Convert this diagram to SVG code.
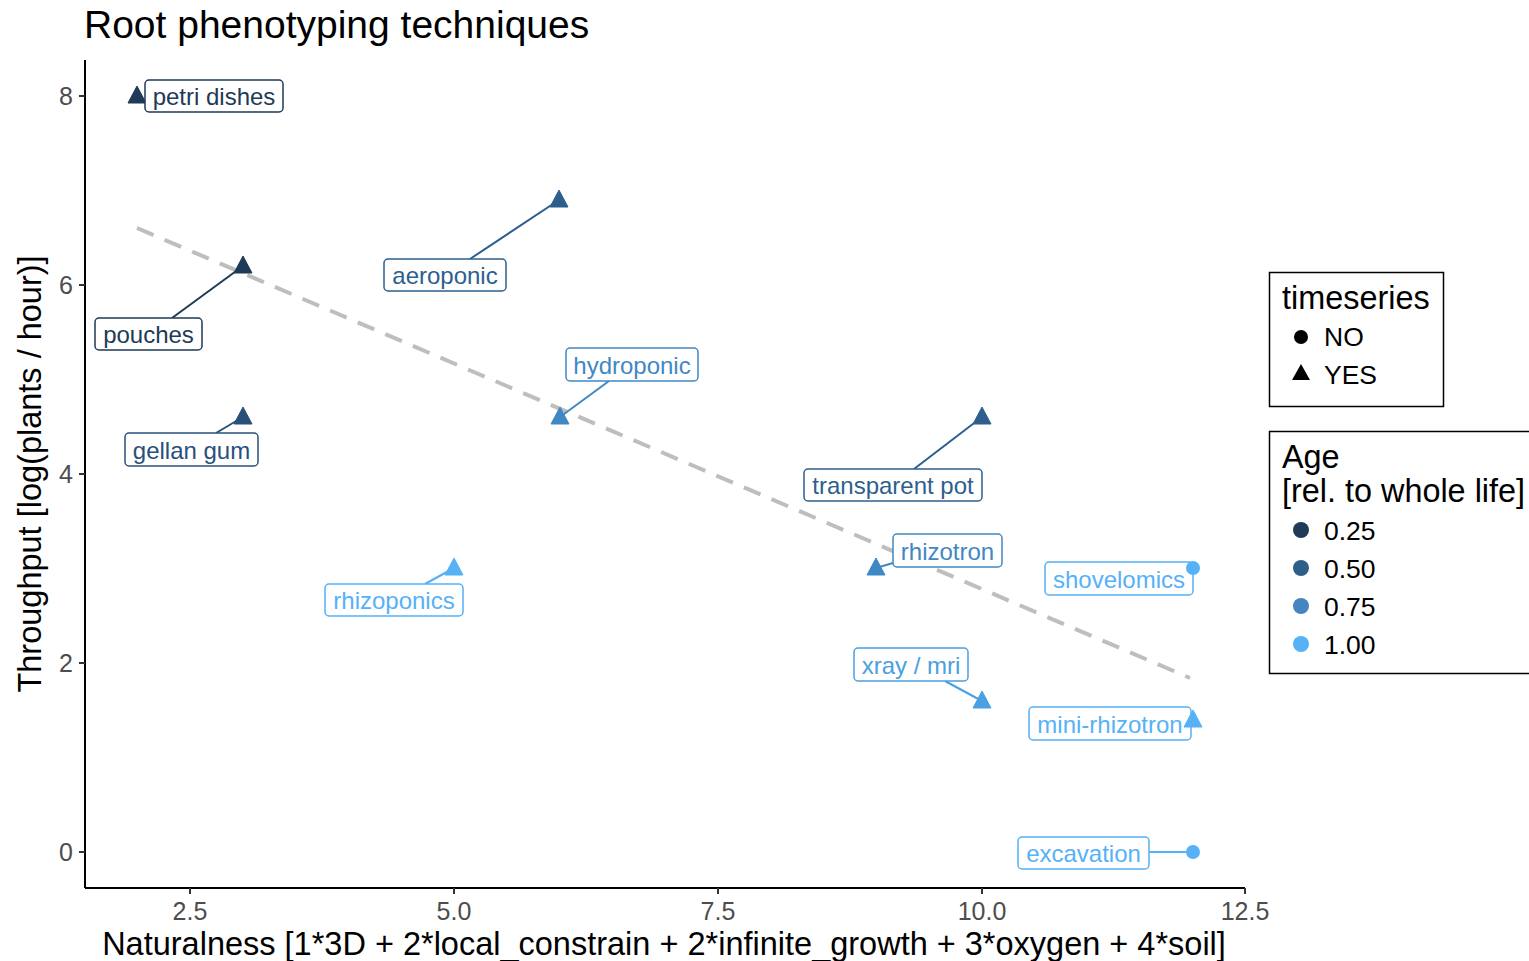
<svg xmlns="http://www.w3.org/2000/svg" width="1529" height="961" viewBox="0 0 1529 961">
<style>
text{font-family:"Liberation Sans",Arial,sans-serif}
.title{font-size:39px;fill:#000}
.tick{font-size:25px;fill:#4d4d4d}
.axt{font-size:32.5px;fill:#000}
.lab{font-size:24px;text-anchor:middle}
.box{fill:#fff;stroke-width:1.5}
.seg{stroke-width:2;fill:none}
.leg{font-size:26.5px;fill:#000}
.legt{font-size:32.4px;fill:#000}
.c1{fill:#1f3a56;stroke:#1f3a56}
.c2{fill:#28507a;stroke:#28507a}
.c3{fill:#2d5f8e;stroke:#2d5f8e}
.c4{fill:#3f88c4;stroke:#3f88c4}
.c5{fill:#4aa0e0;stroke:#4aa0e0}
.c6{fill:#56b1f7;stroke:#56b1f7}
</style>
<defs>
<path id="tri" d="M0,-10 L9,7 L-9,7 Z"/>
</defs>
<rect width="1529" height="961" fill="#fff"/>
<text class="title" x="84" y="38">Root phenotyping techniques</text>
<g id="axes" stroke="#000" stroke-width="2">
<line x1="85" y1="60" x2="85" y2="888"/>
<line x1="85" y1="888" x2="1245" y2="888"/>
<line x1="79" y1="96" x2="85" y2="96" stroke="#333"/>
<line x1="79" y1="285" x2="85" y2="285" stroke="#333"/>
<line x1="79" y1="474" x2="85" y2="474" stroke="#333"/>
<line x1="79" y1="663" x2="85" y2="663" stroke="#333"/>
<line x1="79" y1="852" x2="85" y2="852" stroke="#333"/>
<line x1="190" y1="888" x2="190" y2="894" stroke="#333"/>
<line x1="454" y1="888" x2="454" y2="894" stroke="#333"/>
<line x1="718" y1="888" x2="718" y2="894" stroke="#333"/>
<line x1="982" y1="888" x2="982" y2="894" stroke="#333"/>
<line x1="1245" y1="888" x2="1245" y2="894" stroke="#333"/>
</g>
<g id="ticklabels">
<text class="tick" x="73" y="105" text-anchor="end">8</text>
<text class="tick" x="73" y="294" text-anchor="end">6</text>
<text class="tick" x="73" y="483" text-anchor="end">4</text>
<text class="tick" x="73" y="672" text-anchor="end">2</text>
<text class="tick" x="73" y="861" text-anchor="end">0</text>
<text class="tick" x="190" y="920" text-anchor="middle">2.5</text>
<text class="tick" x="454" y="920" text-anchor="middle">5.0</text>
<text class="tick" x="718" y="920" text-anchor="middle">7.5</text>
<text class="tick" x="982" y="920" text-anchor="middle">10.0</text>
<text class="tick" x="1245" y="920" text-anchor="middle">12.5</text>
</g>
<text class="axt" x="664" y="955" text-anchor="middle">Naturalness [1*3D + 2*local_constrain + 2*infinite_growth + 3*oxygen + 4*soil]</text>
<text class="axt" transform="translate(41,474) rotate(-90)" text-anchor="middle">Throughput [log(plants / hour)]</text>
<line id="trend" x1="137" y1="228" x2="1190" y2="678" stroke="#bebebe" stroke-width="4" stroke-dasharray="18,12"/>
<g id="connectors">
<line class="seg c3" x1="470" y1="259" x2="559" y2="200"/>
<line class="seg c1" x1="172" y1="318" x2="243" y2="266"/>
<line class="seg c2" x1="216" y1="433" x2="243" y2="417"/>
<line class="seg c4" x1="609" y1="381" x2="560" y2="417"/>
<line class="seg c3" x1="914" y1="469" x2="982" y2="417"/>
<line class="seg c4" x1="893" y1="563" x2="876" y2="568"/>
<line class="seg c6" x1="425" y1="584" x2="454" y2="568"/>
<line class="seg c5" x1="945" y1="681" x2="982" y2="701"/>
<line class="seg c6" x1="1149" y1="852" x2="1193" y2="852"/>
</g>
<g id="n-petri"><use href="#tri" x="137" y="96" class="c1"/><rect class="box" x="145" y="80" width="138" height="32" rx="4" stroke="#1f3a56"/><text class="lab" x="214" y="105" fill="#1f3a56">petri dishes</text></g>
<g id="n-aeroponic"><use href="#tri" x="559" y="200" class="c3"/><rect class="box" x="384" y="259" width="122" height="32" rx="4" stroke="#2d5f8e"/><text class="lab" x="445" y="284" fill="#2d5f8e">aeroponic</text></g>
<g id="n-pouches"><use href="#tri" x="243" y="266" class="c1"/><rect class="box" x="95" y="318" width="107" height="32" rx="4" stroke="#1f3a56"/><text class="lab" x="148.5" y="343" fill="#1f3a56">pouches</text></g>
<g id="n-gellan"><use href="#tri" x="243" y="417" class="c2"/><rect class="box" x="125" y="433" width="133" height="33" rx="4" stroke="#28507a"/><text class="lab" x="191.5" y="459" fill="#28507a">gellan gum</text></g>
<g id="n-hydroponic"><use href="#tri" x="560" y="417" class="c4"/><rect class="box" x="566" y="348" width="132" height="33" rx="4" stroke="#3f88c4"/><text class="lab" x="632" y="374" fill="#3f88c4">hydroponic</text></g>
<g id="n-transparent"><use href="#tri" x="982" y="417" class="c3"/><rect class="box" x="804" y="469" width="178" height="32" rx="4" stroke="#2d5f8e"/><text class="lab" x="893" y="494" fill="#2d5f8e">transparent pot</text></g>
<g id="n-rhizotron"><use href="#tri" x="876" y="568" class="c4"/><rect class="box" x="893" y="534" width="109" height="33" rx="4" stroke="#3f88c4"/><text class="lab" x="947.5" y="560" fill="#3f88c4">rhizotron</text></g>
<g id="n-rhizoponics"><use href="#tri" x="454" y="568" class="c6"/><rect class="box" x="325" y="584" width="138" height="32" rx="4" stroke="#56b1f7"/><text class="lab" x="394" y="609" fill="#56b1f7">rhizoponics</text></g>
<g id="n-shovelomics"><rect class="box" x="1045" y="562" width="148" height="33" rx="4" stroke="#56b1f7"/><text class="lab" x="1119" y="588" fill="#56b1f7">shovelomics</text><circle cx="1193" cy="568" r="7" fill="#56b1f7"/></g>
<g id="n-xray"><use href="#tri" x="982" y="701" class="c5"/><rect class="box" x="854" y="648" width="114" height="33" rx="4" stroke="#4aa0e0"/><text class="lab" x="911" y="674" fill="#4aa0e0">xray / mri</text></g>
<g id="n-minirhizotron"><rect class="box" x="1029" y="707" width="162" height="33" rx="4" stroke="#56b1f7"/><text class="lab" x="1110" y="733" fill="#56b1f7">mini-rhizotron</text><use href="#tri" x="1193" y="720" class="c6"/></g>
<g id="n-excavation"><rect class="box" x="1018" y="837" width="131" height="32" rx="4" stroke="#56b1f7"/><text class="lab" x="1083.5" y="862" fill="#56b1f7">excavation</text><circle cx="1193" cy="852" r="7" fill="#56b1f7"/></g>
<g id="legend-timeseries">
<rect x="1269.5" y="272.5" width="174" height="134" fill="#fff" stroke="#000" stroke-width="1.5"/>
<text class="legt" x="1282" y="309">timeseries</text>
<circle cx="1301" cy="337" r="7" fill="#000"/>
<text class="leg" x="1324" y="346">NO</text>
<path d="M1301,364 L1310,380 L1292,380 Z" fill="#000"/>
<text class="leg" x="1324" y="384">YES</text>
</g>
<g id="legend-age">
<rect x="1269.5" y="431.5" width="270" height="242" fill="#fff" stroke="#000" stroke-width="1.5"/>
<text class="legt" x="1282" y="468">Age</text>
<text class="legt" x="1282" y="502">[rel. to whole life]</text>
<circle cx="1301" cy="530" r="8" fill="#1f3b58"/><text class="leg" x="1324" y="540">0.25</text>
<circle cx="1301" cy="568" r="8" fill="#2e5f8a"/><text class="leg" x="1324" y="578">0.50</text>
<circle cx="1301" cy="606" r="8" fill="#4585c0"/><text class="leg" x="1324" y="616">0.75</text>
<circle cx="1301" cy="644" r="8" fill="#56b1f7"/><text class="leg" x="1324" y="654">1.00</text>
</g>
</svg>
